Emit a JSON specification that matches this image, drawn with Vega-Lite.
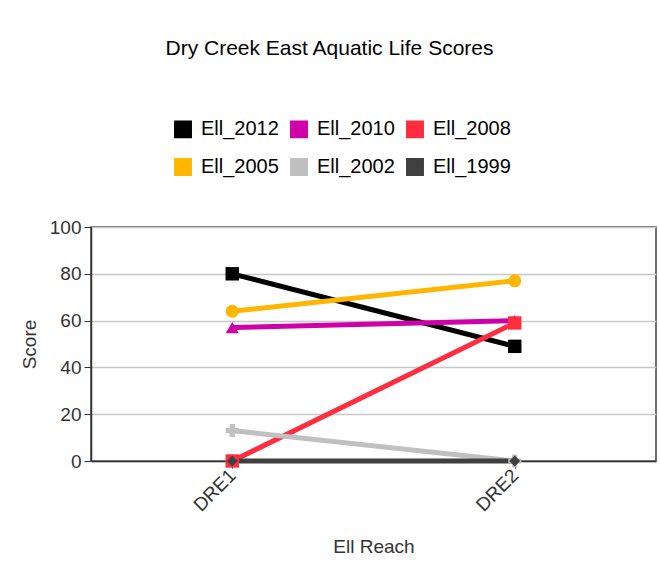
{
  "$schema": "https://vega.github.io/schema/vega-lite/v6.json",
  "width": 565,
  "height": 234,
  "autosize": "none",
  "padding": {"left": 91, "top": 227, "right": 4, "bottom": 110},
  "background": "white",
  "title": {
    "text": "Dry Creek East Aquatic Life Scores",
    "font": "Liberation Sans",
    "fontSize": 21,
    "fontWeight": "normal",
    "color": "#000000",
    "anchor": "middle",
    "frame": "group",
    "dx": -44,
    "offset": 60
  },
  "data": {
    "values": [
      {"series": "Ell_2012", "reach": "DRE1", "score": 80},
      {"series": "Ell_2012", "reach": "DRE2", "score": 49},
      {"series": "Ell_2010", "reach": "DRE1", "score": 57},
      {"series": "Ell_2010", "reach": "DRE2", "score": 60},
      {"series": "Ell_2008", "reach": "DRE1", "score": 0},
      {"series": "Ell_2008", "reach": "DRE2", "score": 59},
      {"series": "Ell_2005", "reach": "DRE1", "score": 64},
      {"series": "Ell_2005", "reach": "DRE2", "score": 77},
      {"series": "Ell_2002", "reach": "DRE1", "score": 13},
      {"series": "Ell_2002", "reach": "DRE2", "score": 0},
      {"series": "Ell_1999", "reach": "DRE1", "score": 0},
      {"series": "Ell_1999", "reach": "DRE2", "score": 0}
    ]
  },
  "encoding": {
    "x": {
      "field": "reach",
      "type": "ordinal",
      "scale": {"type": "point", "padding": 0.5},
      "title": "Ell Reach",
      "axis": {
        "labelAngle": -45,
        "labelAlign": "right",
        "labelBaseline": "middle",
        "tickSize": 7,
        "labelPadding": 4,
        "titlePadding": 23,
        "grid": false
      }
    },
    "y": {
      "field": "score",
      "type": "quantitative",
      "scale": {"domain": [0, 100], "nice": false, "zero": true},
      "title": "Score",
      "axis": {
        "values": [0, 20, 40, 60, 80, 100],
        "tickSize": 7,
        "labelPadding": 3,
        "titlePadding": 10,
        "grid": true
      }
    },
    "color": {
      "field": "series",
      "type": "nominal",
      "scale": {
        "domain": ["Ell_2012", "Ell_2010", "Ell_2008", "Ell_2005", "Ell_2002", "Ell_1999"],
        "range": ["#000000", "#d000a8", "#ff2d40", "#ffb600", "#c0c0c0", "#404040"]
      },
      "legend": {
        "orient": "none",
        "legendX": 82,
        "legendY": -108,
        "direction": "horizontal",
        "columns": 3,
        "title": null,
        "symbolType": "square",
        "symbolSize": 270,
        "symbolStrokeColor": "#000000",
        "symbolStrokeWidth": 1.5,
        "symbolOpacity": 1,
        "labelFont": "Liberation Sans",
        "labelFontSize": 20,
        "labelColor": "#000000",
        "labelOffset": 8,
        "columnPadding": 8,
        "rowPadding": 14,
        "padding": 0,
        "encode": {
          "symbols": {
            "enter": {
              "stroke": {"value": "#000000"},
              "strokeWidth": {"value": 1.5}
            },
            "update": {
              "stroke": {"value": "#000000"},
              "strokeWidth": {"value": 1.5}
            }
          }
        }
      }
    }
  },
  "layer": [
    {"mark": {"type": "line", "strokeWidth": 5}},
    {
      "transform": [{"filter": {"field": "series", "equal": "Ell_2010"}}],
      "mark": {"type": "point", "filled": true, "size": 170, "opacity": 1, "shape": "triangle-up"}
    },
    {
      "transform": [{"filter": {"field": "series", "oneOf": ["Ell_2012", "Ell_2008"]}}],
      "mark": {"type": "point", "filled": true, "size": 180, "opacity": 1, "shape": "square"}
    },
    {
      "transform": [{"filter": {"field": "series", "equal": "Ell_2005"}}],
      "mark": {"type": "point", "filled": true, "size": 170, "opacity": 1, "shape": "circle"}
    },
    {
      "transform": [{"filter": {"field": "series", "equal": "Ell_2002"}}],
      "mark": {"type": "point", "filled": true, "size": 170, "opacity": 1, "shape": "cross"}
    },
    {
      "transform": [{"filter": {"field": "series", "equal": "Ell_1999"}}],
      "mark": {"type": "point", "filled": true, "size": 120, "opacity": 1, "shape": "diamond"}
    }
  ],
  "config": {
    "view": {"stroke": "#404040", "strokeWidth": 1.5},
    "axis": {
      "labelFont": "Liberation Sans",
      "labelFontSize": 19,
      "labelColor": "#333333",
      "titleFont": "Liberation Sans",
      "titleFontSize": 19,
      "titleFontWeight": "normal",
      "titleColor": "#333333",
      "tickColor": "#333333",
      "domainColor": "#333333",
      "domainWidth": 1.5,
      "gridColor": "#c8c8c8",
      "gridWidth": 1.5
    }
  }
}
